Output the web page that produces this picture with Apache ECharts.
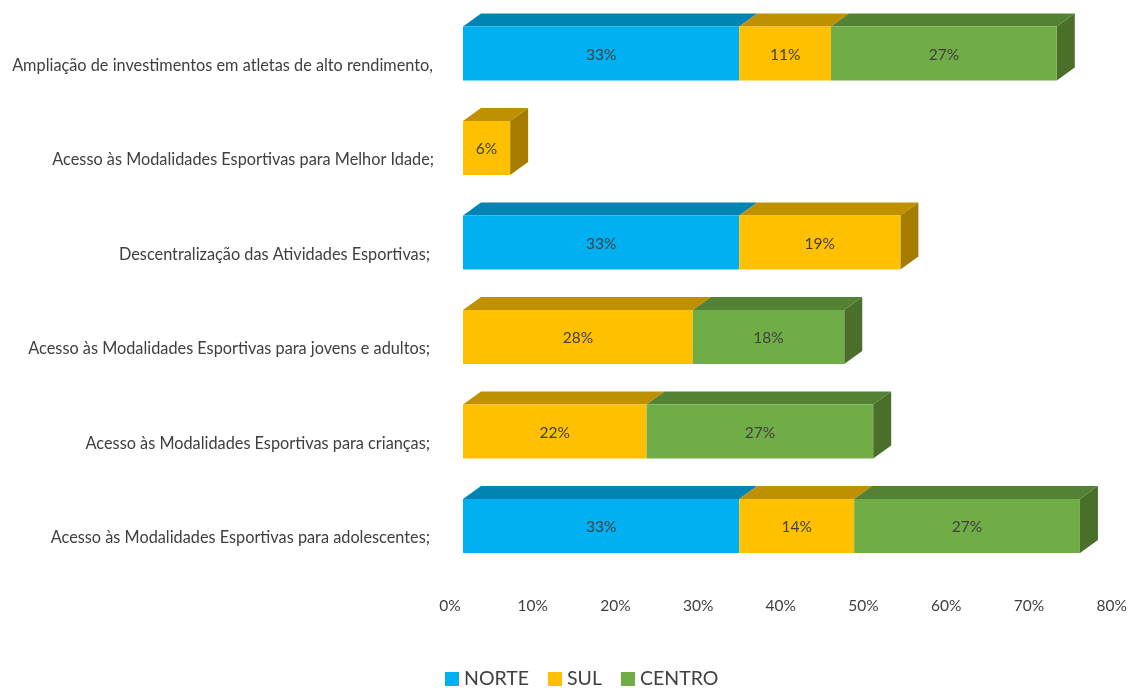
<!DOCTYPE html>
<html><head><meta charset="utf-8">
<style>html,body{margin:0;padding:0;background:#fff}#c{width:1132px;height:688px}</style>
<script src="https://cdn.jsdelivr.net/npm/echarts@6/dist/echarts.min.js"></script>
</head><body><div id="c"></div>
<script>
const categories = [
  'Ampliação de investimentos em atletas de alto rendimento,',
  'Acesso às Modalidades Esportivas para Melhor Idade;',
  'Descentralização das Atividades Esportivas;',
  'Acesso às Modalidades Esportivas para jovens e adultos;',
  'Acesso às Modalidades Esportivas para crianças;',
  'Acesso às Modalidades Esportivas para adolescentes;'
];
const norte  = [33.4, null, 33.4, null, null, 33.4];
const sul    = [11.1, 5.7, 19.49, 27.8, 22.2, 13.9];
const centro = [27.3, null, null, 18.3, 27.4, 27.3];
const xTicks = [0, 10, 20, 30, 40, 50, 60, 70, 80];
const labelRightInset = [1, 0, 4, 4, 4, 4];

const FONT = 'Lato, "Open Sans", sans-serif';
const DX = 18, DY = 13, BAR_H = 54;
const palette = [
  {name:'NORTE',  values:norte,  front:'#00B0F0', top:'#0084B4', side:'#006F98'},
  {name:'SUL',    values:sul,    front:'#FFC000', top:'#BF9000', side:'#A67C00'},
  {name:'CENTRO', values:centro, front:'#70AD47', top:'#548235', side:'#4A6F2B'}
];
const base = categories.map(() => 0);
const series = palette.map(p => {
  const data = [];
  p.values.forEach((v, i) => {
    if (v == null) return;
    data.push([i, base[i], base[i] + v]);
    base[i] += v;
  });
  return {
    type: 'custom',
    name: p.name,
    coordinateSystem: 'cartesian2d',
    itemStyle: {color: p.front},
    encode: {x: [1, 2], y: 0},
    clip: false,
    data,
    renderItem(params, api) {
      const cat = api.value(0);
      const a = api.coord([api.value(1), cat]);
      const b = api.coord([api.value(2), cat]);
      const x0 = a[0], x1 = b[0], t = a[1] - BAR_H / 2, u = a[1] + BAR_H / 2;
      const children = [
        {type:'polygon', shape:{points:[[x0,t],[x1,t],[x1+DX,t-DY],[x0+DX,t-DY]]}, style:{fill:p.top}},
        {type:'rect', shape:{x:x0, y:t, width:x1-x0, height:u-t}, style:{fill:p.front}},
        {type:'text', x:(x0+x1)/2, y:a[1]+1, style:{
          text: Math.round(api.value(2)-api.value(1)) + '%',
          align:'center', verticalAlign:'middle',
          fill:'#404040', font:'15.5px ' + FONT
        }}
      ];
      if (api.value(2) === base[cat]) {
        children.splice(1, 0, {type:'polygon', shape:{points:[[x1,t],[x1+DX,t-DY],[x1+DX,u-DY],[x1,u]]}, style:{fill:p.side}});
      }
      return {type:'group', children};
    }
  };
});

const chart = echarts.init(document.getElementById('c'), null, {renderer:'canvas'});
chart.setOption({
  animation: false,
  backgroundColor: '#fff',
  grid: {left: 463, top: 6.25, width: 661.6, height: 567},
  legend: {
    left: 445, top: 669, padding: 0, itemWidth: 14, itemHeight: 14, itemGap: 19,
    icon: 'rect',
    textStyle: {fontFamily: FONT, fontSize: 19.5, color: '#404040', padding: [0,0,0,0]},
    data: palette.map(p => p.name)
  },
  xAxis: {
    type: 'value', min: xTicks[0], max: xTicks[xTicks.length-1], interval: 10,
    axisLine:{show:false}, axisTick:{show:false}, splitLine:{show:false},
    axisLabel:{
      formatter:'{value}%', color:'#404040', fontFamily:FONT, fontSize:15.5,
      margin: 25, padding:[0,26,0,0], showMinLabel:true, showMaxLabel:true
    }
  },
  yAxis: {
    type: 'category', inverse: true,
    data: categories.map((c, i) => ({value:c, textStyle:{verticalAlign:'top', padding:[4, labelRightInset[i], 0, 0]}})),
    axisLine:{show:false}, axisTick:{show:false},
    axisLabel:{
      color:'#404040', fontFamily:FONT, fontSize:16.3, margin:29, interval:0
    }
  },
  series
});
</script></body></html>
